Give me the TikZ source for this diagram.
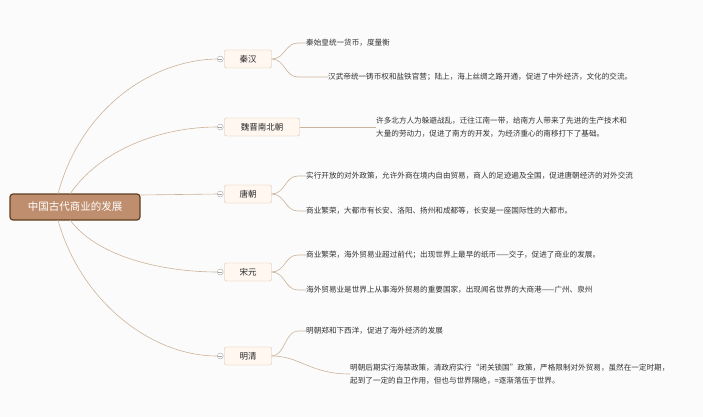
\documentclass[tikz,border=0pt]{standalone}
\usepackage{fontspec}
\newfontfamily\cjk{Noto Sans CJK SC}
\begin{document}
\begin{tikzpicture}[x=1pt,y=-1pt,
  con/.style={draw=brown!45!white!90!black, line width=0.6pt},
  br/.style={draw=brown!50!white, fill=orange!6, rounded corners=2pt, minimum height=18pt, inner xsep=4pt, font=\cjk\fontsize{8.5}{10}\selectfont, text=black!85},
  leaf/.style={anchor=west, font=\cjk\fontsize{7.6}{12.5}\selectfont, text=black!80, inner sep=0pt, align=left},
  tog/.style={circle, draw=gray!70, fill=white, inner sep=0pt, minimum size=6pt}]
\useasboundingbox (0,0) rectangle (703,417);
\fill[white!97!gray] (0,0) rectangle (703,417);
\node[draw=brown!50!black, line width=1.2pt, fill={rgb,255:red,190;green,142;blue,110}, rounded corners=3pt, minimum width=130pt, minimum height=26pt, text=white, font=\cjk\fontsize{10.5}{12}\selectfont] (root) at (75,207) {中国古代商业的发展};
\node[br, minimum width=47pt] (qh) at (248,59) {秦汉};
\node[br, minimum width=75pt] (wj) at (262,127) {魏晋南北朝};
\node[br, minimum width=47pt] (tc) at (248,194) {唐朝};
\node[br, minimum width=47pt] (sy) at (248,272) {宋元};
\node[br, minimum width=47pt] (mq) at (248,356) {明清};
\foreach \n in {qh,wj,tc,sy,mq}{\node[tog] (t\n) at ([xshift=-4pt]\n.west) {}; \draw[gray!70,line width=0.4pt] ([xshift=-2pt]t\n.center)--([xshift=2pt]t\n.center);}
\draw[con] (58,194) .. controls (80,110) and (150,60) .. (tqh.west);
\draw[con] (70,194) .. controls (100,150) and (160,127) .. (twj.west);
\draw[con] (root.east |- 0,195) -- (ttc.west);
\draw[con] (70,220) .. controls (100,260) and (170,272) .. (tsy.west);
\draw[con] (58,220) .. controls (80,300) and (150,356) .. (tmq.west);
% leaves
\node[leaf] (q1) at (306,43) {秦始皇统一货币，度量衡};
\node[leaf] (q2) at (328,77) {汉武帝统一铸币权和盐铁官营；陆上，海上丝绸之路开通，促进了中外经济，文化的交流。};
\draw[con] (qh.east) .. controls (285,59) and (285,43) .. (298,43) -- (q1.west);
\draw[con] (qh.east) .. controls (285,59) and (285,77) .. (298,77) -- (q2.west);
\node[leaf] (w1) at (376,127) {许多北方人为躲避战乱，迁往江南一带，给南方人带来了先进的生产技术和\\大量的劳动力，促进了南方的开发，为经济重心的南移打下了基础。};
\draw[con] (wj.east) -- (w1.west);
\node[leaf] (c1) at (306,176) {实行开放的对外政策，允许外商在境内自由贸易，商人的足迹遍及全国，促进唐朝经济的对外交流};
\node[leaf] (c2) at (306,211) {商业繁荣，大都市有长安、洛阳、扬州和成都等，长安是一座国际性的大都市。};
\draw[con] (tc.east) .. controls (285,194) and (285,176) .. (298,176) -- (c1.west);
\draw[con] (tc.east) .. controls (285,194) and (285,211) .. (298,211) -- (c2.west);
\node[leaf] (s1) at (306,255) {商业繁荣，海外贸易业超过前代；出现世界上最早的纸币——交子，促进了商业的发展。};
\node[leaf] (s2) at (306,290) {海外贸易业是世界上从事海外贸易的重要国家，出现闻名世界的大商港——广州、泉州};
\draw[con] (sy.east) .. controls (285,272) and (285,255) .. (298,255) -- (s1.west);
\draw[con] (sy.east) .. controls (285,272) and (285,290) .. (298,290) -- (s2.west);
\node[leaf] (m1) at (306,331) {明朝郑和下西洋，促进了海外经济的发展};
\node[leaf] (m2) at (350,374) {明朝后期实行海禁政策，清政府实行“闭关锁国”政策，严格限制对外贸易，虽然在一定时期，\\起到了一定的自卫作用，但也与世界隔绝，=逐渐落伍于世界。};
\draw[con] (mq.east) .. controls (300,356) and (310,374) .. (m2.west);
\draw[con] (mq.east) .. controls (285,356) and (285,331) .. (298,331) -- (m1.west);
\end{tikzpicture}
\end{document}
